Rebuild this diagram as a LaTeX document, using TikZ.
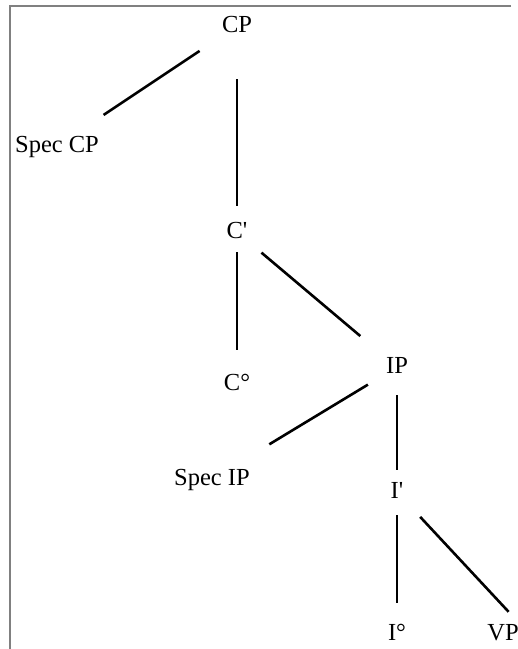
\documentclass[tikz,border=0pt]{standalone}
\usepackage{fontspec}
\setmainfont{Liberation Serif}

\tikzstyle{constituent}=[anchor=base,inner sep=0pt,text height=17pt,text depth=5pt,font=\fontsize{24.5}{29}\selectfont]
\tikzstyle{branch} = [draw,line width=2.6pt,-]
\tikzstyle{frame} = [draw=gray,line width=1.5pt]

\begin{document}
\begin{tikzpicture}[x=1pt,y=-1pt]
    \useasboundingbox (0,0) rectangle (518,649);
    % frame, only its top and left side
    \path[frame] (511,6) -- (10,6) -- (10,649);
    % First we place the constituents at their baselines
    \foreach \pos/\name/\word in {{(237,32)/cp/CP}, {(57,152)/speccp/Spec CP},
            {(237,238)/cbar/C\textquotesingle}, {(237,390)/chead/C°},
            {(397,373)/ip/IP}, {(212,485)/specip/Spec IP},
            {(397,498)/ibar/I\textquotesingle}, {(397,640)/ihead/I°},
            {(503,640)/vp/VP}}
        \node[constituent] (\name) at \pos {\word};
    % Then the branches, cut back from both ends
    \foreach \source/\dest/\pre/\post in {cp/speccp.center/45/56, cp/cbar.center/53/26,
            cbar/chead.center/20/34, cbar/ip.center/32/48,
            ip/specip.center/34/67, ip/ibar.center/28/22,
            ibar/ihead.center/23/31, ibar/vp.north east/34/15}
        \path[branch, shorten <=\pre pt, shorten >=\post pt] (\source.center) -- (\dest);
\end{tikzpicture}
\end{document}
